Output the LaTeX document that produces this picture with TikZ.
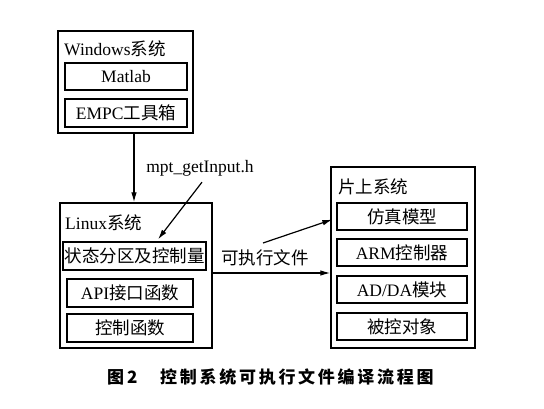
\documentclass[tikz,border=0pt]{standalone}
\usepackage{fontspec}
\setmainfont{Liberation Serif}
\newfontfamily\cjk{Noto Sans CJK SC}
\newfontfamily\cjkcap[LetterSpace=16]{Noto Sans CJK SC}
\usetikzlibrary{arrows.meta,calc}
\begin{document}
\begin{tikzpicture}[x=1pt,y=-1pt,
  box/.style={draw,line width=1.3pt,inner sep=0pt,font=\fontsize{17.5}{20}\selectfont},
  frame/.style={draw,line width=1.3pt,inner sep=0pt},
  lbl/.style={inner sep=0pt,anchor=west,font=\fontsize{17.5}{20}\selectfont},
  arr/.style={line width=1.2pt,-{Latex[length=10pt,width=5.5pt]}}]
\useasboundingbox (0,0) rectangle (544,409);
% Windows
\node[frame,minimum width=135pt,minimum height=102pt] (win) at (125.5,82) {};
\node[lbl] (winl) at (64,49) {Windows{\cjk 系统}};
\node[box,minimum width=122pt,minimum height=27pt] (mat) at (126,76.5) {Matlab};
\node[box,minimum width=122pt,minimum height=28pt] (empc) at (126,113) {EMPC{\cjk 工具箱}};
% Linux
\node[frame,minimum width=152pt,minimum height=145pt] (lin) at (136,275.5) {};
\node[lbl] (linl) at (65,223) {Linux{\cjk 系统}};
\node[box,minimum width=143pt,minimum height=28pt] (st) at (134.5,256) {\cjk 状态分区及控制量};
\node[box,minimum width=126pt,minimum height=28pt] (api) at (130,293) {API{\cjk 接口函数}};
\node[box,minimum width=126pt,minimum height=28pt] (ctl) at (130,328) {\cjk 控制函数};
% chip
\node[frame,minimum width=144pt,minimum height=181pt] (chip) at (403,257.5) {};
\node[lbl] (chipl) at (338,187) {\cjk 片上系统};
\node[box,minimum width=130pt,minimum height=27pt] (fz) at (402,216.5) {\cjk 仿真模型};
\node[box,minimum width=130pt,minimum height=27pt] (arm) at (402,252.5) {ARM{\cjk 控制器}};
\node[box,minimum width=130pt,minimum height=27pt] (adda) at (402,289.5) {AD/DA{\cjk 模块}};
\node[box,minimum width=130pt,minimum height=27pt] (bk) at (402,326.5) {\cjk 被控对象};
% labels
\node[inner sep=0pt,font=\fontsize{17.5}{20}\selectfont] (mpt) at (200,168) {mpt\_getInput.h};
\node[inner sep=0pt,font=\fontsize{17.5}{20}\selectfont\cjk] (exe) at (265,258) {可执行文件};
\coordinate (exs) at (263,243);
% connectors
\draw[arr] ($(win.south)+(8.5,0)$) -- ($(lin.north)+(-2,0)$);
\draw[arr] ($(mpt.south)+(2,6)$) -- ($(st.north)+(23.5,-2)$);
\draw[arr] (lin.east |- 0,273) -- (chip.west |- 0,273);
\draw[arr] (exs) -- ($(chip.west |- fz.west)+(2,3)$);
% caption
\node[inner sep=0pt,anchor=west,font=\fontsize{17}{20}\selectfont\bfseries\cjk] (capn) at (107,377) {图\,2};
\node[inner sep=0pt,anchor=west,font=\fontsize{17}{20}\selectfont\bfseries\cjkcap] (cap) at (160,377) {控制系统可执行文件编译流程图};
\end{tikzpicture}
\end{document}
